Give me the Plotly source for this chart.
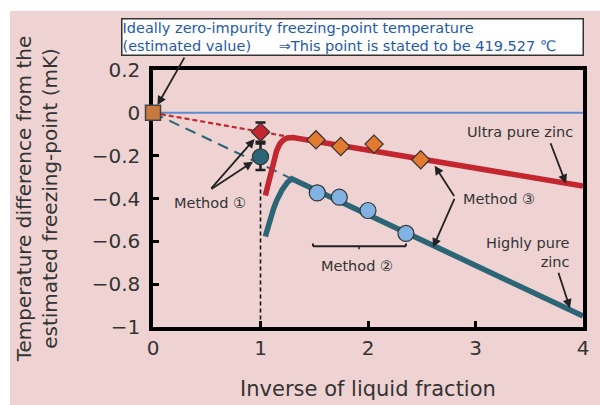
import plotly.graph_objects as go

# ---------------- data ----------------
origin_x = [0.0]
origin_y = [0.0]

# Method 1 (x = 1)
m1_red_x, m1_red_y, m1_red_err = [1.0], [-0.09], [0.045]
m1_teal_x, m1_teal_y, m1_teal_err = [1.0], [-0.205], [0.062]

# Method 2 (highly pure zinc points)
m2_x = [1.528, 1.733, 2.00, 2.353]
m2_y = [-0.374, -0.394, -0.456, -0.563]

# Method 3 (ultra pure zinc points)
m3_x = [1.516, 1.746, 2.056, 2.49]
m3_y = [-0.126, -0.157, -0.146, -0.219]

# Ultra pure zinc curve
ultra_x = [1.045, 1.07, 1.09, 1.12, 1.15, 1.18, 1.21, 1.25, 1.30, 4.0]
ultra_y = [-0.386, -0.34, -0.30, -0.23, -0.177, -0.145, -0.128, -0.117, -0.115, -0.342]

# Highly pure zinc curve
high_x = [1.045, 1.07, 1.09, 1.12, 1.15, 1.20, 1.25, 1.29, 4.0]
high_y = [-0.577, -0.53, -0.50, -0.45, -0.41, -0.36, -0.325, -0.308, -0.949]

# extrapolation lines
ultra_ext_x = [0.0, 1.30]
ultra_ext_y = [0.0, -0.115]
high_ext_x = [0.0, 1.29]
high_ext_y = [0.0, -0.308]

zero_x = [0.0, 4.0]
zero_y = [0.0, 0.0]

vline_x = [1.0, 1.0]
vline_y = [-0.325, -1.0]

x_ticks = [0, 1, 2, 3, 4]
y_ticks = [0.2, 0, -0.2, -0.4, -0.6, -0.8, -1]

# ---------------- colours ----------------
PINK = "#efd3d3"
RED = "#c3262f"
TEAL = "#2c6576"
BLUE_LINE = "#5b8bd0"
ORANGE = "#e27a2f"
LBLUE = "#80b3e3"
SQUARE = "#c8793f"
TXT = "#333333"
FONT = "DejaVu Sans"

fig = go.Figure()

fig.add_trace(go.Scatter(x=zero_x, y=zero_y, mode="lines",
                         line=dict(color=BLUE_LINE, width=2), hoverinfo="skip"))
fig.add_trace(go.Scatter(x=vline_x, y=vline_y, mode="lines",
                         line=dict(color="#111111", width=1.6, dash="4px,3px"), hoverinfo="skip"))
fig.add_trace(go.Scatter(x=high_ext_x, y=high_ext_y, mode="lines",
                         line=dict(color=TEAL, width=2, dash="11px,7px")))
fig.add_trace(go.Scatter(x=ultra_ext_x, y=ultra_ext_y, mode="lines",
                         line=dict(color=RED, width=2.2, dash="5px,3px")))
fig.add_trace(go.Scatter(x=ultra_x, y=ultra_y, mode="lines",
                         line=dict(color=RED, width=5.5)))
fig.add_trace(go.Scatter(x=high_x, y=high_y, mode="lines",
                         line=dict(color=TEAL, width=5.5)))

fig.add_trace(go.Scatter(x=m1_red_x, y=m1_red_y, mode="markers",
                         error_y=dict(type="data", array=m1_red_err, color="#222222", thickness=2.5, width=5),
                         marker=dict(symbol="diamond", size=14, color=RED, line=dict(color="#333333", width=1.2))))
fig.add_trace(go.Scatter(x=m1_teal_x, y=m1_teal_y, mode="markers",
                         error_y=dict(type="data", array=m1_teal_err, color="#222222", thickness=2.5, width=5),
                         marker=dict(symbol="circle", size=16, color=TEAL, line=dict(color="#333333", width=1.2))))
fig.add_trace(go.Scatter(x=m3_x, y=m3_y, mode="markers",
                         marker=dict(symbol="diamond", size=14, color=ORANGE, line=dict(color="#333333", width=1.2))))
fig.add_trace(go.Scatter(x=m2_x, y=m2_y, mode="markers",
                         marker=dict(symbol="circle", size=16, color=LBLUE, line=dict(color="#333333", width=1.2))))
fig.add_trace(go.Scatter(x=origin_x, y=origin_y, mode="markers", cliponaxis=False,
                         marker=dict(symbol="square", size=15, color=SQUARE, line=dict(color="#444444", width=1.5))))

# ---------------- background (pink panel with white strip top/left) ----------------
L, R, T, B = 153, 17, 70, 78
PW, PH = 600 - L - R, 405 - T - B


def px(xp):
    return (xp - L) / PW


def py(yp):
    return (405 - B - yp) / PH


shapes = [
    dict(type="rect", xref="paper", yref="paper", x0=px(10), x1=px(605), y0=py(410), y1=py(11),
         fillcolor=PINK, line=dict(width=0), layer="below"),
    # Method 2 bracket
    dict(type="line", xref="x", yref="y", x0=1.488, x1=2.353, y0=-0.623, y1=-0.623,
         line=dict(color="#222222", width=2)),
    dict(type="line", xref="x", yref="y", x0=1.488, x1=1.488, y0=-0.623, y1=-0.610,
         line=dict(color="#222222", width=2)),
    dict(type="line", xref="x", yref="y", x0=2.353, x1=2.353, y0=-0.623, y1=-0.610,
         line=dict(color="#222222", width=2)),
    dict(type="line", xref="x", yref="y", x0=1.916, x1=1.916, y0=-0.623, y1=-0.637,
         line=dict(color="#222222", width=1.5)),
]

ARW = dict(showarrow=True, arrowhead=2, arrowsize=1, arrowwidth=1.8, arrowcolor="#222222",
           axref="x", ayref="y", text="")
LBL = dict(family=FONT, size=14.5, color=TXT)
NB = "\u00a0"

annotations = [
    dict(xref="paper", yref="paper", x=px(121), y=py(18), xanchor="left", yanchor="top",
         text="Ideally zero-impurity freezing-point temperature<br>(estimated value)" + NB * 6
              + "⇒This point is stated to be 419.527 ℃",
         align="left", showarrow=False, bgcolor="white", bordercolor="#333333", borderwidth=1.5,
         borderpad=0, width=460, font=dict(family=FONT, size=14.5, color="#1f5aa8")),
    dict(x=0, y=0, ax=0.30, ay=0.265, standoff=9, **ARW),
    # Method 1
    dict(x=1.0, y=-0.09, ax=0.53, ay=-0.36, standoff=9, **ARW),
    dict(x=1.0, y=-0.205, ax=0.53, ay=-0.36, standoff=9, **ARW),
    dict(x=0.53, y=-0.42, text="Method ①", showarrow=False, font=LBL),
    # Method 2
    dict(x=1.90, y=-0.716, text="Method ②", showarrow=False, font=LBL),
    # Method 3
    dict(x=2.62, y=-0.247, ax=2.81, ay=-0.395, **ARW),
    dict(x=2.605, y=-0.628, ax=2.81, ay=-0.395, **ARW),
    dict(x=3.22, y=-0.40, text="Method ③", showarrow=False, font=LBL),
    # Ultra pure zinc
    dict(x=3.414, y=-0.088, text="Ultra pure zinc", showarrow=False, font=LBL),
    dict(x=3.842, y=-0.33, ax=3.693, ay=-0.135, **ARW),
    # Highly pure zinc
    dict(x=3.898, y=-0.651, xanchor="right", text="Highly pure<br>zinc", align="right", showarrow=False,
         font=LBL),
    dict(x=3.879, y=-0.912, ax=3.767, ay=-0.74, **ARW),
]

fig.update_layout(
    width=600, height=405,
    margin=dict(l=L, r=R, t=T, b=B, autoexpand=False),
    paper_bgcolor="white", plot_bgcolor="rgba(0,0,0,0)",
    showlegend=False,
    font=dict(family=FONT, color=TXT),
    shapes=shapes, annotations=annotations,
    xaxis=dict(range=[0, 4], tickvals=x_ticks, ticks="inside", ticklen=6, tickwidth=2.5,
               tickcolor="black", showline=True, linecolor="black", linewidth=3.5, mirror=True,
               showgrid=False, zeroline=False, tickfont=dict(size=20, color=TXT), layer="below traces",
               title=dict(text="Inverse of liquid fraction", font=dict(size=21, color=TXT), standoff=24),
               automargin=False),
    yaxis=dict(range=[-1, 0.2], tickvals=y_ticks, ticks="inside", ticklen=6, tickwidth=2.5,
               tickcolor="black", showline=True, linecolor="black", linewidth=3.5, mirror=True,
               showgrid=False, zeroline=False, tickfont=dict(size=20, color=TXT), layer="below traces",
               tickformat="~g", ticklabelstandoff=5,
               title=dict(text="Temperature difference from the<br>estimated freezing-point (mK)",
                          font=dict(size=20, color=TXT), standoff=30),
               automargin=False),
)

fig.write_html("out.html", config={"displayModeBar": False},
               post_script="document.body.style.margin='0px';")
